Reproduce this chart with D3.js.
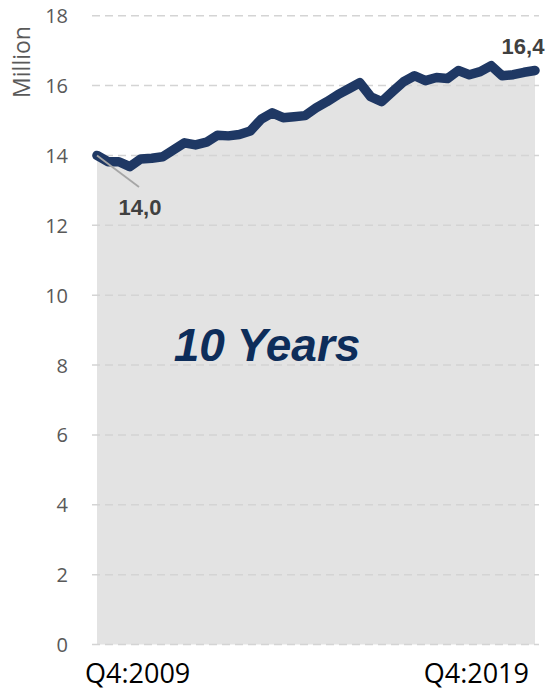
<!DOCTYPE html>
<html>
<head>
<meta charset="utf-8">
<script src="https://cdn.jsdelivr.net/npm/d3@7"></script>
<style>
  html, body { margin: 0; padding: 0; background: #ffffff; }
  svg { display: block; }
</style>
</head>
<body>
<svg id="chart" width="548" height="690"></svg>
<script>
const quarters = [
  "Q4:2009","Q1:2010","Q2:2010","Q3:2010","Q4:2010","Q1:2011","Q2:2011","Q3:2011","Q4:2011",
  "Q1:2012","Q2:2012","Q3:2012","Q4:2012","Q1:2013","Q2:2013","Q3:2013","Q4:2013",
  "Q1:2014","Q2:2014","Q3:2014","Q4:2014","Q1:2015","Q2:2015","Q3:2015","Q4:2015",
  "Q1:2016","Q2:2016","Q3:2016","Q4:2016","Q1:2017","Q2:2017","Q3:2017","Q4:2017",
  "Q1:2018","Q2:2018","Q3:2018","Q4:2018","Q1:2019","Q2:2019","Q3:2019","Q4:2019"
];
const values = [
  14.00, 13.82, 13.82, 13.68, 13.90, 13.92, 13.96, 14.16, 14.36,
  14.30, 14.38, 14.58, 14.56, 14.60, 14.70, 15.04, 15.22,
  15.08, 15.11, 15.14, 15.36, 15.54, 15.74, 15.91, 16.08,
  15.68, 15.54, 15.83, 16.11, 16.28, 16.14, 16.23, 16.20,
  16.43, 16.31, 16.40, 16.57, 16.28, 16.31, 16.38, 16.43
];
const yTicks = [0, 2, 4, 6, 8, 10, 12, 14, 16, 18];
const xTickLabels = ["Q4:2009", "Q4:2019"];
const firstLabel = "14,0";
const lastLabel = "16,4";
const yAxisTitle = "Million";
const annotation = "10 Years";

const svg = d3.select("#chart");
const x = d3.scalePoint().domain(quarters).range([97, 535]);
const y = d3.scaleLinear().domain([0, 18]).range([644.5, 15.7]);

// area fill
const area = d3.area()
  .x((d, i) => x(quarters[i]))
  .y0(y(0))
  .y1(d => y(d));
svg.append("path")
  .datum(values)
  .attr("d", area)
  .attr("fill", "#e3e3e3");

// gridlines
svg.append("g").selectAll("line").data(yTicks).join("line")
  .attr("x1", 92).attr("x2", 539)
  .attr("y1", d => y(d)).attr("y2", d => y(d))
  .attr("stroke", "#d4d4d4")
  .attr("stroke-width", 1.5)
  .attr("stroke-dasharray", "8,5");

// y axis labels
const yAxis = d3.axisLeft(y).tickValues(yTicks).tickSize(0).tickPadding(0).tickFormat(d3.format("d"));
const gy = svg.append("g").attr("transform", "translate(68,0)").call(yAxis);
gy.select(".domain").remove();
gy.selectAll("text")
  .attr("fill", "#595959")
  .style("font-family", "'Open Sans', sans-serif")
  .style("font-size", "20px")
  .attr("dy", "0.35em");

// y axis title
svg.append("text")
  .attr("transform", "translate(30,62) rotate(-90)")
  .attr("text-anchor", "middle")
  .attr("fill", "#595959")
  .style("font-family", "'Open Sans', sans-serif")
  .style("font-size", "23px")
  .text(yAxisTitle);

// x labels
svg.append("text")
  .attr("x", x(quarters[0]) - 12)
  .attr("y", 683)
  .attr("text-anchor", "start")
  .attr("fill", "#000000")
  .style("font-family", "'Open Sans', sans-serif")
  .style("font-size", "27px")
  .text(xTickLabels[0]);
svg.append("text")
  .attr("x", x(quarters[quarters.length - 1]) - 6)
  .attr("y", 683)
  .attr("text-anchor", "end")
  .attr("fill", "#000000")
  .style("font-family", "'Open Sans', sans-serif")
  .style("font-size", "27px")
  .text(xTickLabels[1]);

// line
const line = d3.line()
  .x((d, i) => x(quarters[i]))
  .y(d => y(d));
svg.append("path")
  .datum(values)
  .attr("d", line)
  .attr("fill", "none")
  .attr("stroke", "#1f3864")
  .attr("stroke-width", 9.5)
  .attr("stroke-linejoin", "round")
  .attr("stroke-linecap", "round");

// leader line for first label
svg.append("line")
  .attr("x1", x(quarters[0])).attr("y1", y(values[0]))
  .attr("x2", 139).attr("y2", 187)
  .attr("stroke", "#a6a6a6")
  .attr("stroke-width", 1.8);

// data labels
svg.append("text")
  .attr("x", 140).attr("y", 215)
  .attr("text-anchor", "middle")
  .attr("fill", "#404040")
  .style("font-family", "'Liberation Sans', Arial, sans-serif")
  .style("font-weight", "bold")
  .style("font-size", "22px")
  .text(firstLabel);
svg.append("text")
  .attr("x", 523).attr("y", 54)
  .attr("text-anchor", "middle")
  .attr("fill", "#404040")
  .style("font-family", "'Liberation Sans', Arial, sans-serif")
  .style("font-weight", "bold")
  .style("font-size", "22px")
  .text(lastLabel);

// annotation
svg.append("text")
  .attr("x", 267).attr("y", 361)
  .attr("text-anchor", "middle")
  .attr("fill", "#0d2d5a")
  .style("font-family", "'Liberation Sans', Arial, sans-serif")
  .style("font-weight", "bold")
  .style("font-style", "italic")
  .style("font-size", "46px")
  .text(annotation);
</script>
</body>
</html>
